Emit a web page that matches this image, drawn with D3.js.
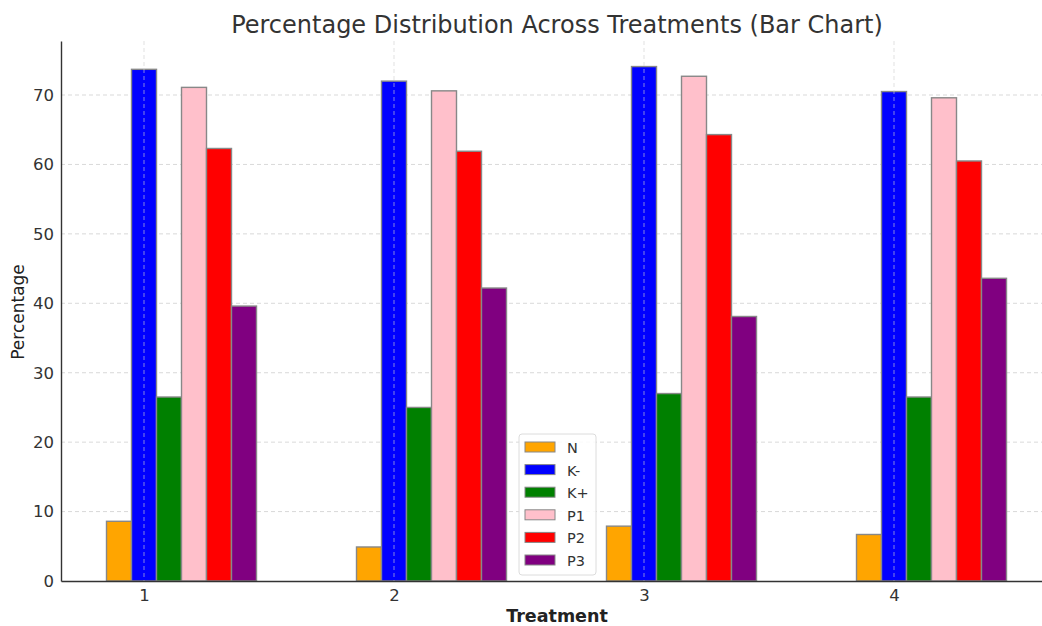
<!DOCTYPE html>
<html>
<head>
<meta charset="utf-8">
<script src="https://cdn.jsdelivr.net/npm/d3@7"></script>
<style>
  body { margin: 0; background: #fff; }
  text { font-family: "DejaVu Sans", sans-serif; }
</style>
</head>
<body>
<div id="center" style="width:1042px;height:626px"></div>
<script>
// treatments on the x axis
const treatments = [1, 2, 3, 4];
const groups = ["N", "K-", "K+", "P1", "P2", "P3"];
const valN = [8.6, 4.9, 7.9, 6.7];
const valKminus = [73.7, 72.0, 74.1, 70.5];
const valKplus = [26.5, 25.0, 27.0, 26.5];
const valP1 = [71.1, 70.6, 72.7, 69.6];
const valP2 = [62.3, 61.9, 64.3, 60.5];
const valP3 = [39.6, 42.2, 38.1, 43.6];
const yTicks = [0, 10, 20, 30, 40, 50, 60, 70];

let series = [valN, valKminus, valKplus, valP1, valP2, valP3];
let color = {
    "N": "orange",
    "K-": "blue",
    "K+": "green",
    "P1": "pink",
    "P2": "red",
    "P3": "purple"
};
let barW = 0.1;

let width = 1042;
let height = 626;
const svg = d3.select("#center").append("svg")
    .attr("width", width)
    .attr("height", height);

let xlinear = d3.scaleLinear().domain([0.668, 4.632]).range([61, 1052]);
let ylinear = d3.scaleLinear().domain([0, 77.78]).range([581, 41]);

// grid
svg.append("g").selectAll("line")
    .data(yTicks.filter(d => d > 0))
    .enter().append("line")
    .attr("x1", 61).attr("x2", width)
    .attr("y1", d => ylinear(d)).attr("y2", d => ylinear(d))
    .attr("stroke", "#cfcfcf").attr("stroke-width", 0.8)
    .attr("stroke-dasharray", "4,3");

// bars
groups.forEach(function (g, i) {
    svg.append("g").selectAll("rect")
        .data(series[i])
        .enter()
        .append("rect")
        .attr("x", (d, j) => xlinear(treatments[j] + (i - 1) * barW - barW / 2))
        .attr("width", xlinear(barW) - xlinear(0))
        .attr("y", d => ylinear(d))
        .attr("height", d => ylinear(0) - ylinear(d))
        .attr("fill", color[g])
        .attr("stroke", "#888")
        .attr("stroke-width", 1.4);
});

// vertical grid drawn over bars like matplotlib default
svg.append("g").selectAll("line")
    .data(treatments)
    .enter().append("line")
    .attr("x1", d => xlinear(d)).attr("x2", d => xlinear(d))
    .attr("y1", 41).attr("y2", 581)
    .attr("stroke", "#cfcfcf").attr("stroke-width", 0.8)
    .attr("stroke-opacity", 0.8)
    .attr("stroke-dasharray", "4,3");

let axisY = d3.axisLeft(ylinear).tickValues(yTicks).tickSize(0).tickPadding(7)
    .tickFormat(d3.format("d"));
let axisX = d3.axisBottom(xlinear).tickValues(treatments).tickSize(0).tickPadding(8)
    .tickFormat(d3.format("d"));

let gy = svg.append("g")
    .attr("transform", "translate(61,0)")
    .call(axisY);
let gx = svg.append("g")
    .attr("transform", "translate(0,581)")
    .call(axisX);
[gx, gy].forEach(function (g) {
    g.select(".domain").attr("stroke", "#333").attr("stroke-width", 1.4);
    g.selectAll("text").attr("font-size", 16.5).attr("fill", "#333")
        .style("font-family", "DejaVu Sans");
});

// title and labels
svg.append("text")
    .attr("x", 557).attr("y", 33)
    .attr("text-anchor", "middle")
    .attr("font-size", 24)
    .attr("fill", "#333")
    .text("Percentage Distribution Across Treatments (Bar Chart)");
svg.append("text")
    .attr("x", 557).attr("y", 622)
    .attr("text-anchor", "middle")
    .attr("font-size", 17.5)
    .attr("font-weight", "bold")
    .attr("fill", "#222")
    .text("Treatment");
svg.append("text")
    .attr("transform", "translate(24,312) rotate(-90)")
    .attr("text-anchor", "middle")
    .attr("font-size", 17)
    .attr("fill", "#222")
    .text("Percentage");

// legend
let legend = svg.append("g").attr("transform", "translate(519,434)");
legend.append("rect")
    .attr("width", 77).attr("height", 141)
    .attr("rx", 3)
    .attr("fill", "white").attr("fill-opacity", 0.85)
    .attr("stroke", "#dcdcdc");
let items = legend.selectAll(".item")
    .data(groups)
    .enter().append("g")
    .attr("transform", (d, i) => "translate(6," + (8 + i * 22.6) + ")");
items.append("rect")
    .attr("width", 30).attr("height", 10)
    .attr("fill", d => color[d])
    .attr("stroke", "#888");
items.append("text")
    .attr("x", 42).attr("y", 11)
    .attr("font-size", 14.5)
    .attr("fill", "#333")
    .text(d => d);
</script>
</body>
</html>
